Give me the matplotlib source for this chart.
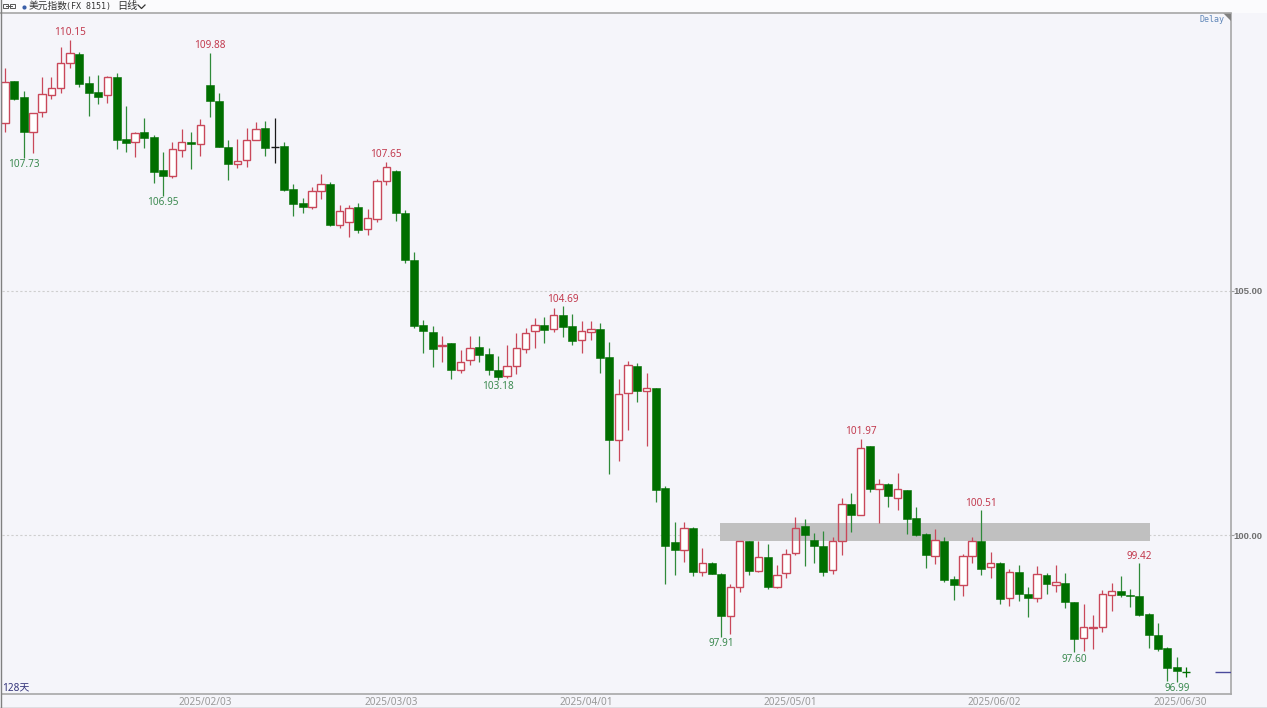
import matplotlib
matplotlib.use('Agg')
import matplotlib.pyplot as plt
from matplotlib.lines import Line2D
from matplotlib.patches import Polygon, Rectangle
import numpy as np

# daily candles
opens = [108.44,109.30,108.98,108.26,108.67,109.02,109.16,109.67,109.86,109.26,
         109.08,109.02,109.39,108.11,108.05,108.26,108.16,107.48,107.36,107.89,
         108.05,108.01,109.22,108.89,107.95,107.60,107.68,108.09,108.34,107.95,
         107.97,107.09,106.80,106.72,107.05,107.19,106.35,106.41,106.72,106.27,
         106.48,107.25,107.46,106.60,105.64,104.30,104.16,103.87,103.93,103.38,
         103.59,103.85,103.71,103.38,103.26,103.46,103.81,104.18,104.30,104.22,
         104.51,104.28,104.00,104.16,104.22,103.65,101.95,102.91,103.46,102.95,
         103.01,100.96,99.86,99.69,100.14,99.24,99.43,99.20,98.34,98.93,
         99.88,99.26,99.55,98.93,99.22,99.63,100.18,99.90,99.77,99.28,
         99.88,100.64,100.41,101.82,100.94,101.05,100.76,100.92,100.35,100.02,
         99.57,99.88,99.10,98.98,99.57,99.88,99.34,99.43,98.71,99.24,
         98.79,98.71,99.18,98.98,99.02,98.63,97.89,98.09,98.11,98.77,
         98.85,98.77,98.75,98.38,97.95,97.68,97.29,97.19]
highs = [109.57,109.30,109.10,108.65,109.39,109.39,110.00,110.15,109.90,109.41,
         109.43,109.41,109.47,108.79,108.26,108.55,108.20,107.85,108.05,108.32,
         108.26,108.52,109.88,109.06,108.09,108.11,108.34,108.46,108.48,108.55,
         108.05,107.19,106.90,107.13,107.40,107.23,106.76,106.76,106.80,106.68,
         107.30,107.65,107.48,106.66,105.80,104.41,104.28,104.08,103.93,103.79,
         104.08,104.08,103.83,103.67,103.89,104.14,104.24,104.45,104.47,104.65,
         104.69,104.53,104.39,104.39,104.34,103.96,103.20,103.57,103.52,103.32,
         103.01,101.00,100.27,100.27,100.16,99.73,99.45,99.22,99.00,99.88,
         99.88,99.88,99.82,99.39,99.71,100.37,100.33,100.04,100.08,99.96,
         100.76,100.86,101.97,101.82,101.15,101.07,101.27,100.92,100.57,100.04,
         100.12,99.96,99.16,99.61,99.96,100.51,99.65,99.45,99.30,99.39,
         98.93,99.36,99.22,99.39,99.22,98.63,98.59,98.36,98.87,99.02,
         99.16,98.89,99.42,98.40,98.20,97.70,97.50,97.29]
lows = [108.26,108.91,107.73,107.83,108.57,108.93,109.06,109.57,109.18,108.59,
        108.83,108.85,107.91,107.85,107.75,107.93,107.21,106.95,107.32,107.75,
        107.50,107.77,108.57,107.95,107.27,107.52,107.54,108.09,107.77,107.62,
        107.05,106.54,106.60,106.68,106.89,106.33,106.29,106.11,106.19,106.15,
        106.41,107.17,106.43,105.57,104.24,103.73,103.44,103.55,103.20,103.32,
        103.48,103.55,103.28,103.18,103.22,103.30,103.73,103.83,103.93,104.16,
        104.06,103.89,103.73,104.00,103.32,101.25,101.52,102.15,102.73,101.82,
        100.68,99.00,99.18,99.45,99.16,99.16,99.20,97.91,97.97,98.83,
        99.18,99.24,98.89,98.91,99.12,99.59,99.36,99.43,99.16,99.20,
        99.59,100.06,100.41,100.88,100.25,100.57,100.51,100.02,99.98,99.32,
        99.41,99.04,98.67,98.75,99.43,99.18,99.12,98.59,98.55,98.65,
        98.32,98.63,98.79,98.83,98.50,97.60,97.62,97.66,98.01,98.44,
        98.73,98.52,98.34,97.68,97.62,97.00,96.99,97.09]
closes = [109.28,108.93,108.26,108.65,109.04,109.16,109.67,109.88,109.24,109.06,
          108.98,109.39,108.09,108.03,108.24,108.14,107.44,107.36,107.91,108.05,
          108.01,108.40,108.89,107.95,107.60,107.66,108.09,108.32,107.93,107.95,
          107.07,106.78,106.72,107.05,107.19,106.35,106.64,106.70,106.25,106.50,
          107.25,107.54,106.60,105.64,104.28,104.18,103.81,103.89,103.38,103.55,
          103.83,103.69,103.38,103.24,103.46,103.83,104.14,104.30,104.20,104.51,
          104.26,103.98,104.18,104.22,103.63,101.95,102.89,103.48,102.95,103.01,
          100.92,99.77,99.69,100.14,99.24,99.43,99.20,98.34,98.93,99.88,
          99.26,99.55,98.93,99.18,99.61,100.14,100.00,99.77,99.24,99.88,
          100.64,100.41,101.78,100.94,101.05,100.80,100.94,100.33,100.00,99.59,
          99.90,99.08,98.98,99.57,99.88,99.30,99.43,98.69,99.24,98.79,
          98.71,99.20,99.00,99.04,98.63,97.87,98.11,98.11,98.79,98.85,
          98.77,98.75,98.36,97.95,97.66,97.27,97.21,97.19]

# marked highs and lows (candle index)
high_marks = [7, 22, 41, 60, 92, 105, 122]
low_marks = [2, 17, 53, 77, 115, 126]

band_low, band_high = 99.88, 100.25
band_start, band_end = 76.9, 123.1
y_ticks = [100, 105]
date_ticks = [21.5, 41.5, 62.5, 84.5, 106.4, 126.4]
date_labels = ['2025/02/03', '2025/03/03', '2025/04/01', '2025/05/01', '2025/06/02', '2025/06/30']

W, H = 1267, 708
BG = '#f5f5fa'
RED = '#c9485a'
GREEN = '#006f00'
WICK_GREEN = '#2f8a3a'
TXT_RED = '#c23a4e'
TXT_GREEN = '#3c8a50'
FONT = ['Noto Sans', 'Noto Sans CJK SC']

plt.rcParams['font.family'] = FONT

fig = plt.figure(figsize=(W / 100, H / 100), dpi=100, facecolor=BG)
# plot area runs from px 2 to 1231 across and 14 to 694 down
ax = fig.add_axes([2 / W, 1 - 694 / H, 1229 / W, 680 / H], facecolor=BG)
ax.set_xlim(-0.32, 131.84)
ax.set_ylim(96.742, 110.676)

x = np.arange(len(closes))
o, h, l, c = map(np.array, (opens, highs, lows, closes))
up = c > o
down = c < o
flat = c == o
top = np.maximum(o, c)
bot = np.minimum(o, c)

for tick in y_ticks:
    ax.axhline(tick, color='#cfcfcf', lw=0.8, ls=(0, (2, 2)), zorder=0)

# white inside of the up candles goes under the band, the rest on top
ax.bar(x[up], (top - bot)[up], bottom=bot[up], width=0.8, color='white', lw=0, zorder=1)
ax.add_patch(Rectangle((band_start, band_low), band_end - band_start, band_high - band_low,
                       facecolor='#c0c0c0', edgecolor='none', zorder=2))

ax.vlines(x[up], top[up], h[up], color=RED, lw=0.9, zorder=3)
ax.vlines(x[up], l[up], bot[up], color=RED, lw=0.9, zorder=3)
ax.vlines(x[down], l[down], h[down], color=WICK_GREEN, lw=0.9, zorder=3)
ax.bar(x[up], (top - bot)[up], bottom=bot[up], width=0.8, facecolor='none',
       edgecolor=RED, lw=1.0, zorder=4)
ax.bar(x[down], (top - bot)[down], bottom=bot[down], width=0.86, color=GREEN,
       edgecolor=GREEN, lw=0.4, zorder=4)

# dojis: the first one is black, the last one green
for i in x[flat]:
    col = '#1a1a1a' if i < 100 else GREEN
    ax.vlines(i, l[i], h[i], color=col, lw=0.9, zorder=4)
    ax.hlines(c[i], i - 0.42, i + 0.42, color=col, lw=1.0, zorder=4)

for i in high_marks:
    ax.annotate(f'{h[i]:.2f}', (i, h[i]), xytext=(0, 1), textcoords='offset points',
                ha='center', va='bottom', fontsize=7.2, color=TXT_RED, zorder=5)
for i in low_marks:
    ax.annotate(f'{l[i]:.2f}', (i, l[i]), xytext=(0, -1), textcoords='offset points',
                ha='center', va='top', fontsize=7.2, color=TXT_GREEN, zorder=5)

# last price stub at the right edge
ax.hlines(c[-1], 130.1, 131.84, color='#4a4a9c', lw=1.0, zorder=3)

ax.yaxis.tick_right()
ax.set_yticks(y_ticks)
ax.set_yticklabels([f'{t:.2f}' for t in y_ticks], fontsize=6.8, fontweight='bold',
                   color='#707070', family=['Liberation Sans'])
ax.tick_params(axis='y', length=2, width=0.8, color='#a0a0a0', pad=0)
ax.set_xticks(date_ticks)
ax.set_xticklabels(date_labels, fontsize=7.2, color='#999999')
ax.tick_params(axis='x', length=0, pad=2)

for side in ('top', 'left'):
    ax.spines[side].set_visible(False)
for side in ('right', 'bottom'):
    ax.spines[side].set_color('#a8a8a8')
    ax.spines[side].set_linewidth(1.2)


def fx(px):
    return px / W


def fy(py):
    return 1 - py / H


# window chrome
fig.add_artist(Rectangle((0, fy(13)), 1, 13 / H, transform=fig.transFigure, facecolor='#fbfbfd', edgecolor='none', zorder=0))
fig.add_artist(Line2D([0, fx(1231)], [fy(13), fy(13)], color='#a6a6a6', lw=1.2))
fig.add_artist(Line2D([fx(0.6), fx(0.6)], [fy(0), fy(708)], color='#808080', lw=1.0))
fig.add_artist(Line2D([0, 1], [fy(707.5), fy(707.5)], color='#808080', lw=1.0))
fig.add_artist(Polygon([[fx(1223), fy(13)], [fx(1231), fy(13)], [fx(1231), fy(21)]],
                       closed=True, transform=fig.transFigure, facecolor='#808080', edgecolor='none'))

# link icon and chevron in the header
fig.add_artist(Rectangle((fx(3), fy(8)), 5 / W, 4 / H, transform=fig.transFigure, fill=False, edgecolor='#555555', lw=0.7))
fig.add_artist(Rectangle((fx(10), fy(8)), 5 / W, 4 / H, transform=fig.transFigure, fill=False, edgecolor='#555555', lw=0.7))
fig.add_artist(Line2D([fx(6), fx(12)], [fy(6), fy(6)], color='#555555', lw=0.7))
fig.add_artist(Line2D([fx(24)], [fy(6.5)], marker='o', ms=3, color='#3a5fa8', mew=0))
fig.add_artist(Line2D([fx(138), fx(141.5), fx(145)], [fy(5), fy(8.5), fy(5)], color='#333333', lw=0.9))

fig.text(fx(29), fy(6), '美元指数', fontsize=7, color='#333333', va='center', ha='left')
fig.text(fx(66), fy(6), '(FX 8151)', fontsize=6, color='#333333', va='center', ha='left',
         family=['DejaVu Sans Mono'])
fig.text(fx(117), fy(6), '日线', fontsize=7.3, color='#333333', va='center', ha='left')
fig.text(fx(1200), fy(20), 'Delay', fontsize=6, color='#5f86b8', va='center', ha='left',
         family=['DejaVu Sans Mono'])
fig.text(fx(2), fy(688), '128天', fontsize=7.2, color='#33337a', va='center', ha='left')

fig.savefig('out.png', dpi=100, facecolor=fig.get_facecolor())
